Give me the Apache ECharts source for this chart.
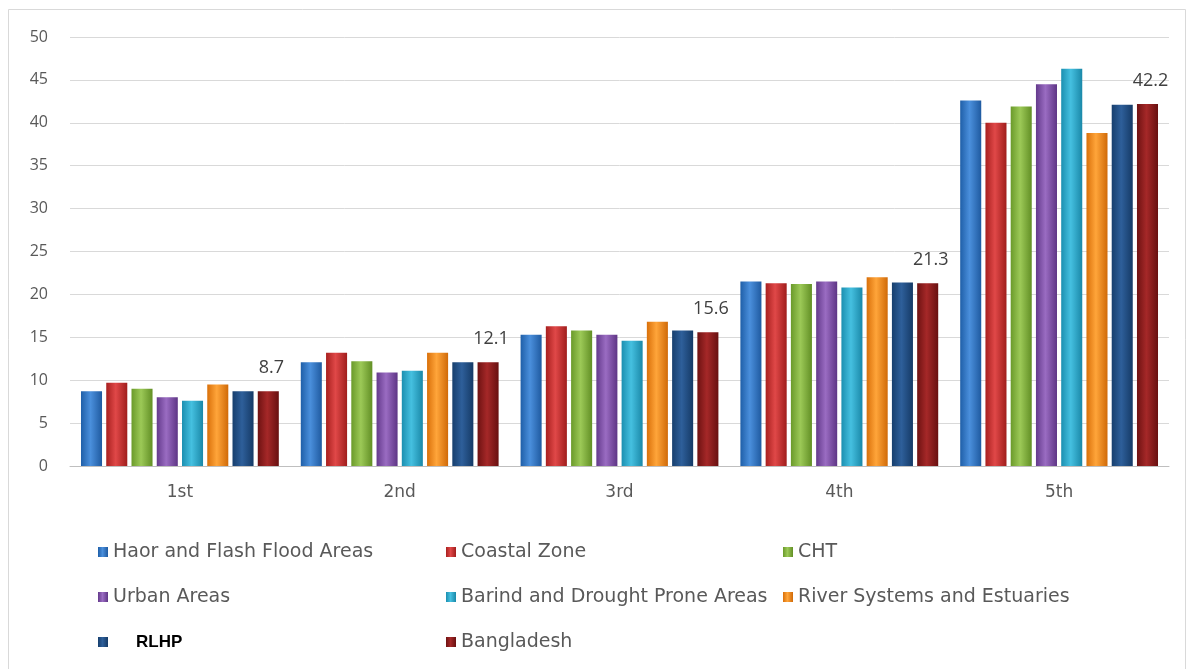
<!DOCTYPE html>
<html><head><meta charset="utf-8">
<script src="https://cdn.jsdelivr.net/npm/echarts@6/dist/echarts.min.js"></script>
<style>html,body{margin:0;padding:0;background:#fff}#c{width:1194px;height:669px}</style>
</head><body><div id="c"></div>
<script>
const categories = ['1st','2nd','3rd','4th','5th'];
const seriesNames = ['Haor and Flash Flood Areas','Coastal Zone','CHT','Urban Areas','Barind and Drought Prone Areas','River Systems and Estuaries','RLHP','Bangladesh'];
const haor      = [8.7, 12.1, 15.3, 21.5, 42.6];
const coastal   = [9.7, 13.2, 16.3, 21.3, 40.0];
const cht       = [9.0, 12.2, 15.8, 21.2, 41.9];
const urban     = [8.0, 10.9, 15.3, 21.5, 44.5];
const barind    = [7.6, 11.1, 14.6, 20.8, 46.3];
const river     = [9.5, 13.2, 16.8, 22.0, 38.8];
const rlhp      = [8.7, 12.1, 15.8, 21.4, 42.1];
const bangladesh= [8.7, 12.1, 15.6, 21.3, 42.2];
const yTicks = [0,5,10,15,20,25,30,35,40,45,50];

const values = [haor, coastal, cht, urban, barind, river, rlhp, bangladesh];
const colors = [
  ['#1f5fa8','#4a8fdc','#1f5aa0'],
  ['#a8201f','#e04848','#a01d1c'],
  ['#6a9a2a','#9cc957','#628f25'],
  ['#643a8c','#9a6cc2','#5e3585'],
  ['#1b8fb0','#45c0e0','#1a88a8'],
  ['#d9700a','#ffa53a','#d06a08'],
  ['#173f6e','#2e5f9a','#153a66'],
  ['#6e1212','#a52828','#681010']
];
function grad(c){
  return new echarts.graphic.LinearGradient(0,0,1,0,[
    {offset:0,color:c[0]},{offset:0.45,color:c[1]},{offset:1,color:c[2]}
  ]);
}
const FONT = '"Open Sans", "DejaVu Sans", sans-serif';
const LFONT = '"DejaVu Sans", sans-serif';
const series = seriesNames.map((n,i)=>({
  name:n, type:'bar', data: values[i],
  barGap:'20%', barCategoryGap:'10%',
  itemStyle:{color:grad(colors[i])},
  label: i===7 ? {show:true, position:'top', distance:14, fontSize:18, color:'#404040', fontFamily:FONT, offset:[3,0]} : {show:false}
}));

const legendCommon = {
  orient:'vertical', itemGap:25, itemWidth:10, itemHeight:10, icon:'rect', itemTextGap:6,
  textStyle:{fontSize:19, lineHeight:20, color:'#595959', fontFamily:LFONT,
    rich:{b:{fontSize:17, lineHeight:20, fontWeight:'bold', color:'#000', fontFamily:'"Liberation Sans", Arial, sans-serif', padding:[0,0,0,23]}}},
  formatter: function(n){ return n==='RLHP' ? '{b|RLHP}' : n; },
  selectedMode:false
};

const chart = echarts.init(document.getElementById('c'));
chart.setOption({
  animation:false,
  backgroundColor:'#fff',
  color: colors.map(c=>c[1]),
  grid:{left:70, right:25, top:37, bottom:203},
  xAxis:{type:'category', data:categories,
    axisLine:{lineStyle:{color:'#bfbfbf'}}, axisTick:{show:false},
    axisLabel:{fontSize:17, color:'#595959', fontFamily:LFONT, margin:18}},
  yAxis:{type:'value', min:0, max:50, interval:5,
    axisLine:{show:false}, axisTick:{show:false},
    splitLine:{lineStyle:{color:'#d9d9d9'}},
    axisLabel:{fontSize:16, color:'#595959', fontFamily:FONT, margin:22,
      formatter: v => yTicks.includes(v) ? String(v) : ''}},
  legend:[
    Object.assign({left:93, top:537, data:[seriesNames[0],seriesNames[3],seriesNames[6]]}, legendCommon),
    Object.assign({left:441, top:537, data:[seriesNames[1],seriesNames[4],seriesNames[7]]}, legendCommon),
    Object.assign({left:778, top:537, data:[seriesNames[2],seriesNames[5]]}, legendCommon)
  ],
  graphic:[{type:'rect', shape:{x:8.5,y:9.5,width:1177,height:680}, style:{fill:'none', stroke:'#d9d9d9', lineWidth:1}, silent:true}],
  series: series
});
</script></body></html>
